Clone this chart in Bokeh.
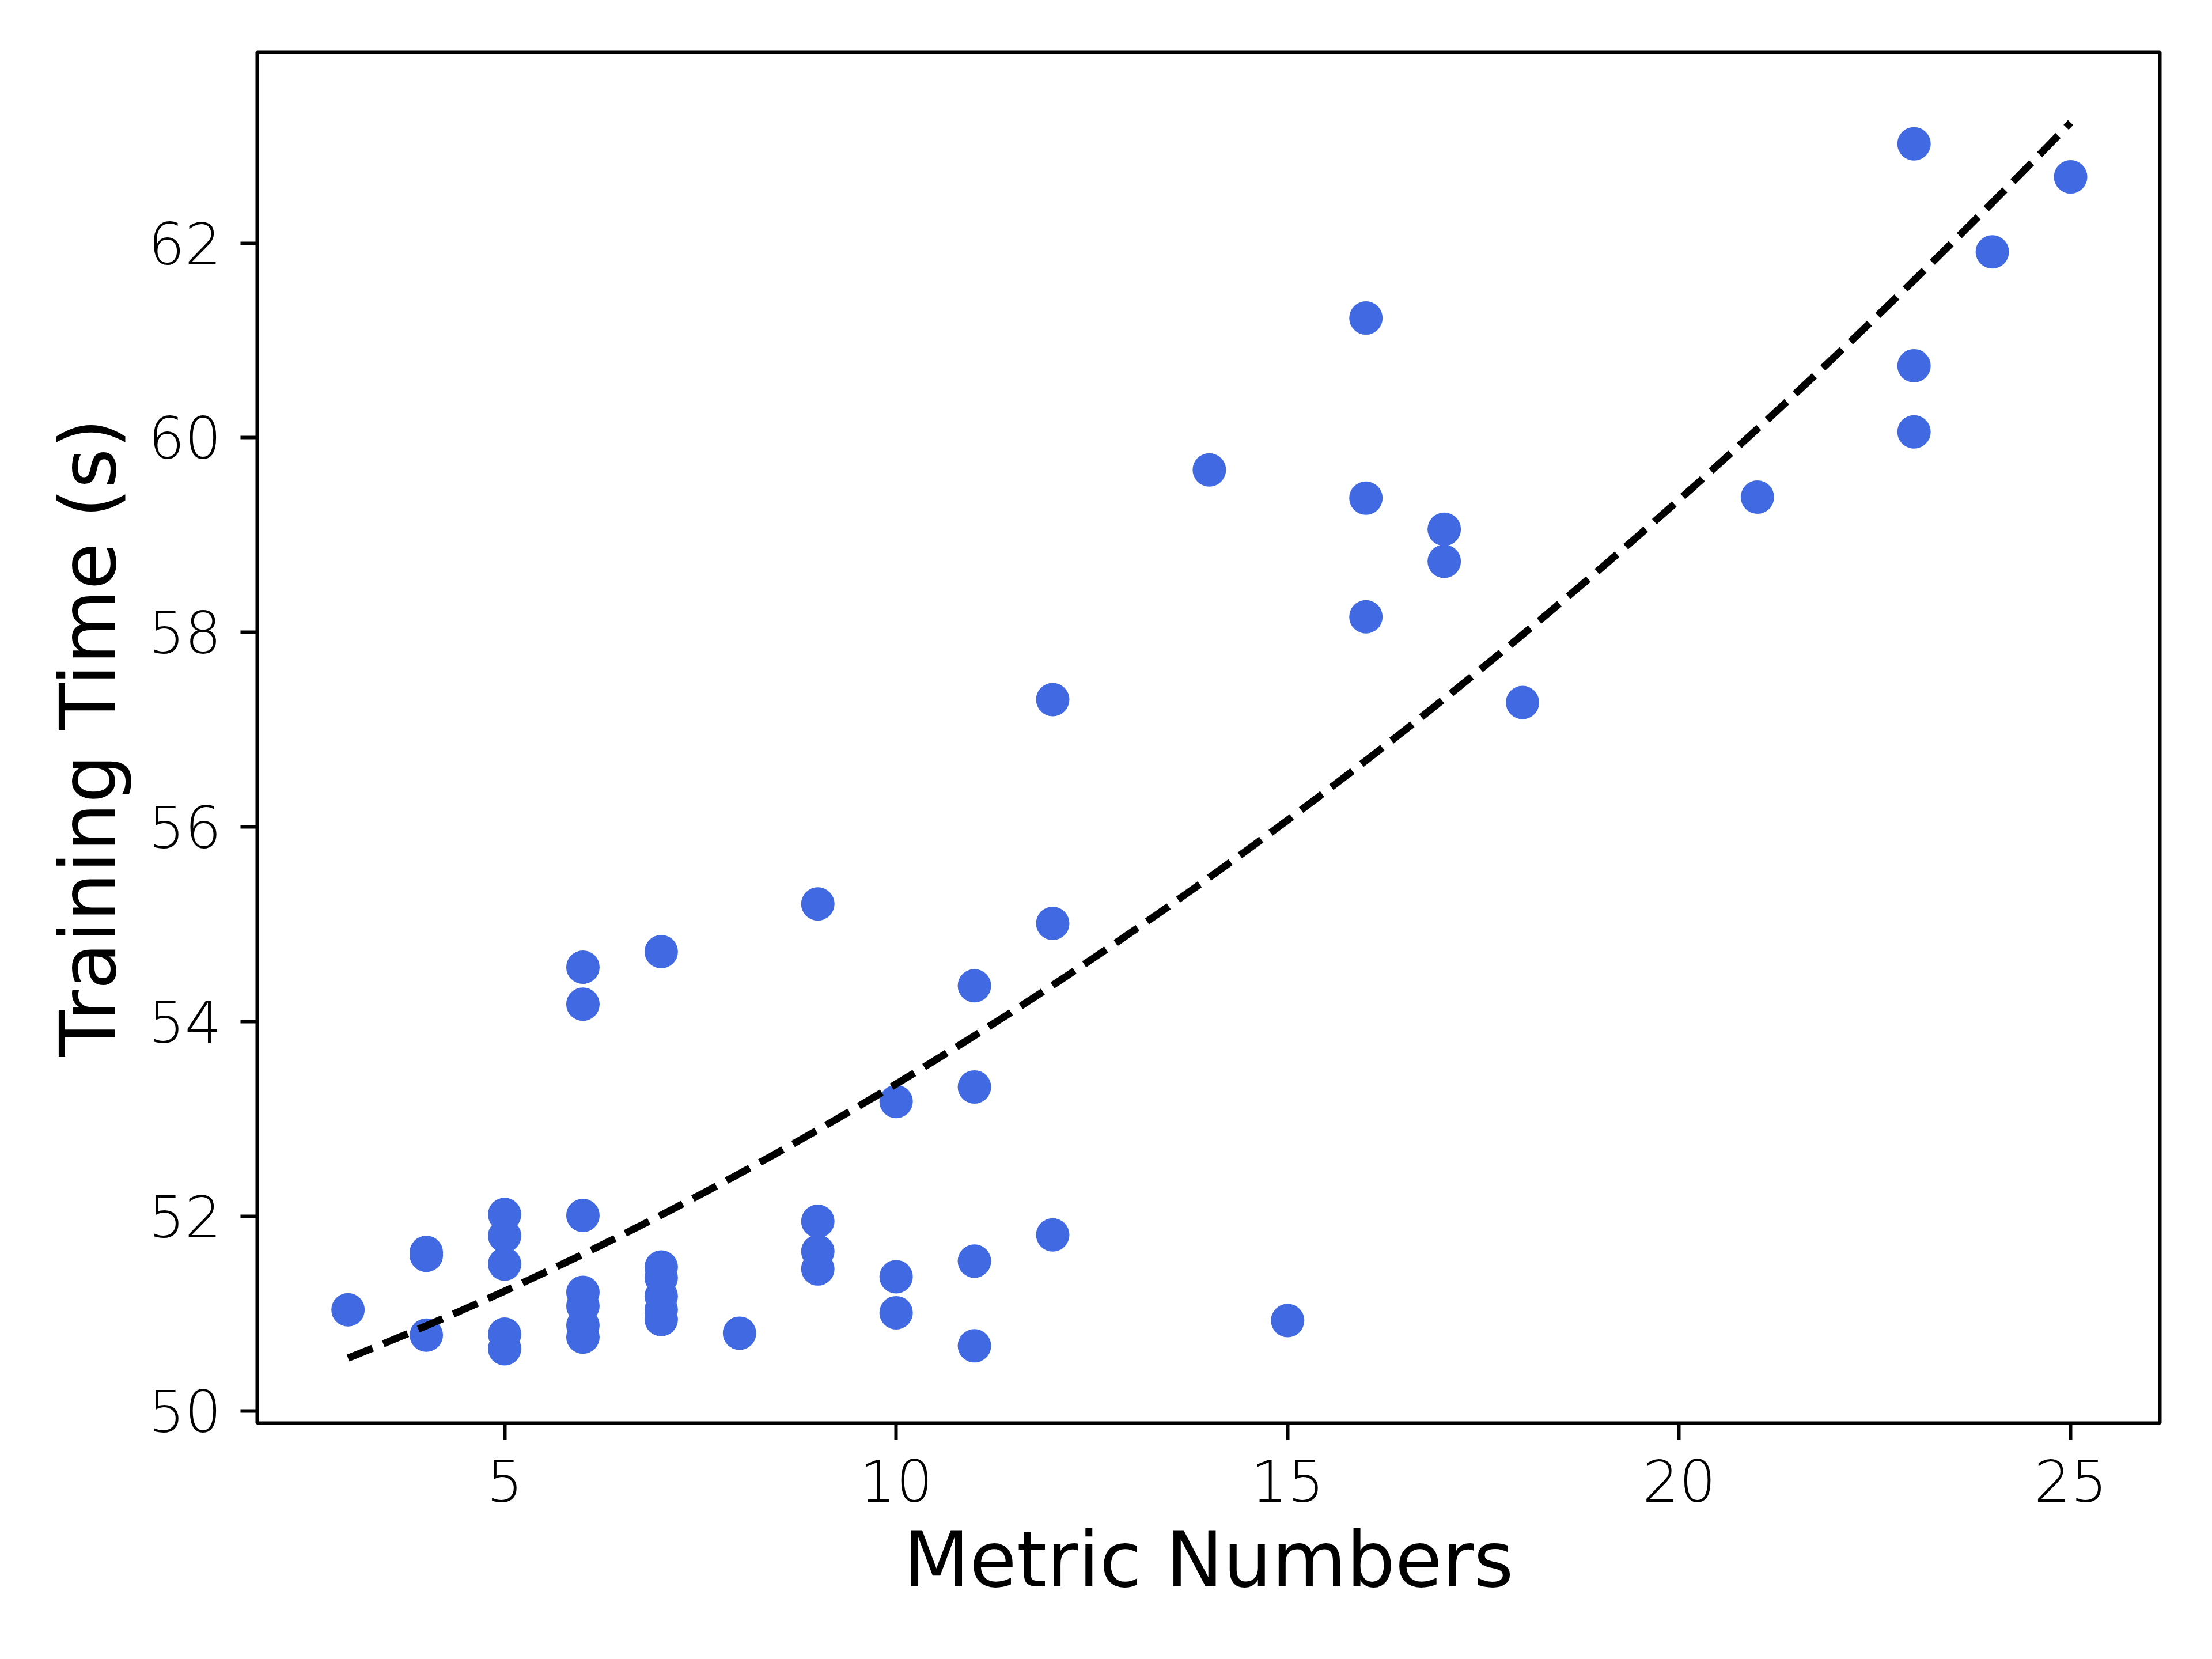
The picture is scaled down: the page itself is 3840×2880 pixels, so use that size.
import numpy as np
from bokeh.plotting import figure
from bokeh.models import Range1d, FixedTicker
from bokeh.embed import file_html
from bokeh.resources import INLINE

# Data
metric_numbers = [3,
                  4, 4, 4,
                  5, 5, 5, 5, 5,
                  6, 6, 6, 6, 6, 6, 6,
                  7, 7, 7, 7, 7, 7,
                  8,
                  9, 9, 9, 9,
                  10, 10, 10,
                  11, 11, 11, 11,
                  12, 12, 12,
                  14,
                  15,
                  16, 16, 16,
                  17, 17,
                  18,
                  21,
                  23, 23, 23,
                  24,
                  25]
training_time = [51.04,
                 51.63, 51.60, 50.78,
                 52.02, 51.80, 51.51, 50.79, 50.64,
                 54.56, 54.18, 52.01, 51.22, 51.08, 50.88, 50.76,
                 54.72, 51.48, 51.37, 51.18, 51.04, 50.94,
                 50.80,
                 55.21, 51.95, 51.64, 51.46,
                 53.18, 51.38, 51.01,
                 54.37, 53.33, 51.54, 50.67,
                 57.31, 55.01, 51.81,
                 59.67,
                 50.93,
                 61.23, 59.38, 58.16,
                 59.06, 58.73,
                 57.28,
                 59.39,
                 63.02, 60.74, 60.06,
                 61.91,
                 62.68]

x_ticks = [5, 10, 15, 20, 25]
y_ticks = [50, 52, 54, 56, 58, 60, 62]
x_limits = [1.84, 26.14]
y_limits = [49.876, 63.962]

# quadratic regression trend line
coef = np.polyfit(metric_numbers, training_time, 2)
fit_x = np.linspace(min(metric_numbers), max(metric_numbers), 200)
fit_y = np.polyval(coef, fit_x)

p = figure(width=3824, height=2864, output_backend="svg", toolbar_location=None,
           x_range=Range1d(*x_limits), y_range=Range1d(*y_limits),
           min_border_left=446, min_border_top=90, min_border_right=75, min_border_bottom=394)

p.scatter(metric_numbers, training_time, size=58, color="#4169E1", line_color=None)
p.line(fit_x, fit_y, line_color="black", line_width=12.5, line_dash="46 20")

p.xgrid.visible = False
p.ygrid.visible = False
p.outline_line_color = "black"
p.outline_line_width = 6
p.background_fill_color = "white"
p.border_fill_color = "white"

p.xaxis.ticker = FixedTicker(ticks=x_ticks)
p.yaxis.ticker = FixedTicker(ticks=y_ticks)
p.xaxis.axis_label = "Metric Numbers"
p.yaxis.axis_label = "Training Time (s)"
for ax in (p.xaxis, p.yaxis):
    ax.axis_line_color = None
    ax.major_tick_line_width = 6
    ax.major_tick_line_color = "black"
    ax.major_tick_out = 29
    ax.major_tick_in = 0
    ax.minor_tick_line_color = None
    ax.major_label_text_font = "DejaVu Sans"
    ax.major_label_text_font_size = "100px"
    ax.major_label_text_font_style = "normal"
    ax.major_label_text_color = "black"
    ax.axis_label_text_font = "DejaVu Sans"
    ax.axis_label_text_font_size = "133px"
    ax.axis_label_text_font_style = "normal"
    ax.axis_label_text_color = "black"
p.xaxis.major_label_standoff = 34
p.yaxis.major_label_standoff = 33
p.xaxis.axis_label_standoff = 21
p.yaxis.axis_label_standoff = 23

open("out.html", "w").write(file_html(p, INLINE))
